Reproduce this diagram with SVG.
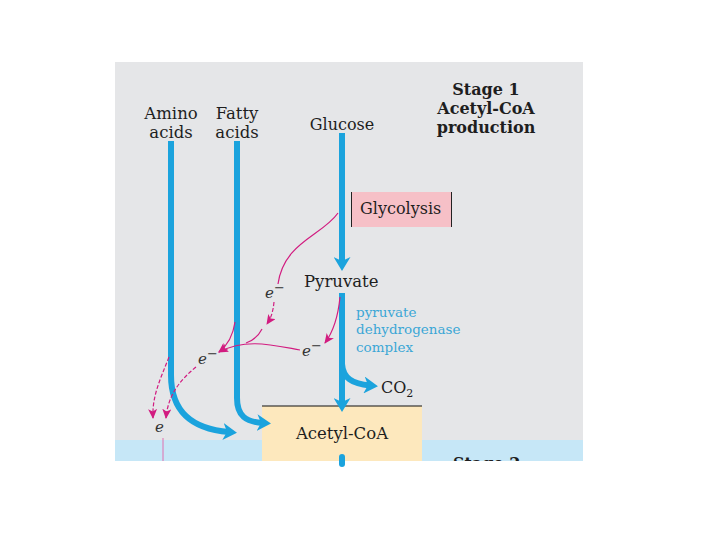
<svg xmlns="http://www.w3.org/2000/svg" width="720" height="540" viewBox="0 0 720 540">
<defs>
<style>
.t{font-family:"DejaVu Serif","Liberation Serif",serif;fill:#1e1e1e}
.b{font-weight:bold}
.e{font-family:"DejaVu Serif","Liberation Serif",serif;font-style:italic;font-size:15px;fill:#333}
.blue{fill:none;stroke:#1ba3dd;stroke-width:6}
.pk{fill:none;stroke:#d21c80;stroke-width:1.2}
.dash{stroke-dasharray:4 2}
.enz{font-family:"DejaVu Serif","Liberation Serif",serif;font-size:13.5px;fill:#3ba6d6}
</style>
<marker id="ab" markerUnits="userSpaceOnUse" viewBox="0 0 14 17" refX="6" refY="8.5" markerWidth="14" markerHeight="17" orient="auto">
<path d="M0,0 L14,8.5 L0,17 L4,8.5 Z" fill="#1ba3dd"/>
</marker>
<marker id="ap" markerUnits="userSpaceOnUse" viewBox="0 0 10 9" refX="9" refY="4.5" markerWidth="10" markerHeight="9" orient="auto">
<path d="M0,0 L10,4.5 L0,9 L2.5,4.5 Z" fill="#d21c80"/>
</marker>
<clipPath id="clip"><rect x="115" y="62" width="468" height="399"/></clipPath>
</defs>
<rect width="720" height="540" fill="#ffffff"/>
<g id="panel">
<rect x="115" y="62" width="468" height="399" fill="#e5e6e8"/>
<rect x="115" y="440" width="468" height="21" fill="#c6e7f7"/>
</g>
<g id="acetylcoa">
<rect x="262" y="406" width="160" height="55" fill="#fde8bd"/>
<line x1="262" y1="406" x2="422" y2="406" stroke="#111" stroke-width="1.2"/>
<text class="t" x="342" y="439" font-size="16.5" text-anchor="middle">Acetyl-CoA</text>
</g>
<g id="glycolysis">
<rect x="351" y="192" width="101" height="35" fill="#f6c0c7"/>
<line x1="351.5" y1="192" x2="351.5" y2="227" stroke="#222" stroke-width="1"/>
<line x1="451.5" y1="192" x2="451.5" y2="227" stroke="#222" stroke-width="1"/>
<text class="t" x="360" y="214" font-size="16">Glycolysis</text>
</g>
<g id="connectors">
<path class="blue" d="M171,141 V375 C171,412 192,429 229,432" marker-end="url(#ab)"/>
<path class="blue" d="M237,141 V398 C237,416 246,422 263,423" marker-end="url(#ab)"/>
<path class="blue" d="M342,133 V263" marker-end="url(#ab)"/>
<path class="blue" d="M342,293 V404" marker-end="url(#ab)"/>
<path class="blue" d="M342,364 C343,378 352,384 370,385.5" stroke-width="5" marker-end="url(#ab)"/>
<path class="blue" d="M342,457 V464" stroke-linecap="round"/>
<path class="pk" d="M338,213 C322,236 284,242 278,284"/>
<path class="pk dash" d="M274,302 C273,312 271,318 267,324" marker-end="url(#ap)"/>
<path class="pk" d="M340,297 C338,318 333,332 325,343" marker-end="url(#ap)"/>
<path class="pk" d="M300,350 C272,345 246,338 219,352" marker-end="url(#ap)"/>
<path class="pk" d="M262,329 C258,337 252,341 246,343"/>
<path class="pk" d="M235,322 C233,336 228,345 219,352" marker-end="url(#ap)"/>
<path class="pk dash" d="M196,367 C180,380 168,395 166,418" marker-end="url(#ap)"/>
<path class="pk dash" d="M169,357 C160,380 152,396 153,418" marker-end="url(#ap)"/>
<line x1="163" y1="438" x2="163" y2="461" stroke="#e070b0" stroke-width="1"/>
</g>
<g id="electrons">
<text class="e" x="265" y="298">e<tspan font-style="normal" font-size="13" dy="-6">−</tspan></text>
<text class="e" x="302" y="356">e<tspan font-style="normal" font-size="13" dy="-6">−</tspan></text>
<text class="e" x="198" y="364">e<tspan font-style="normal" font-size="13" dy="-6">−</tspan></text>
<text class="e" x="155" y="432">e</text>
</g>
<g id="amino"><text class="t" x="171" y="119" font-size="16.5" text-anchor="middle">Amino</text><text class="t" x="171" y="138" font-size="16.5" text-anchor="middle">acids</text></g>
<g id="fatty"><text class="t" x="237" y="119" font-size="16.5" text-anchor="middle">Fatty</text><text class="t" x="237" y="138" font-size="16.5" text-anchor="middle">acids</text></g>
<g id="glucose"><text class="t" x="342" y="130" font-size="16" text-anchor="middle">Glucose</text></g>
<g id="pyruvate"><text class="t" x="304" y="287" font-size="16.5">Pyruvate</text></g>
<g id="pdh"><text class="enz" x="356" y="317">pyruvate</text><text class="enz" x="356" y="334">dehydrogenase</text><text class="enz" x="356" y="352">complex</text></g>
<g id="co2"><text class="t" x="381" y="393" font-size="16">CO<tspan font-size="11" dy="4">2</tspan></text></g>
<g id="stage1">
<text class="t b" x="486" y="95" font-size="16" text-anchor="middle">Stage 1</text>
<text class="t b" x="486" y="114" font-size="16" text-anchor="middle">Acetyl-CoA</text>
<text class="t b" x="486" y="133" font-size="16" text-anchor="middle">production</text>
</g>
<g id="stage2" clip-path="url(#clip)"><text class="t b" x="453" y="469" font-size="16">Stage 2</text></g>
</svg>
